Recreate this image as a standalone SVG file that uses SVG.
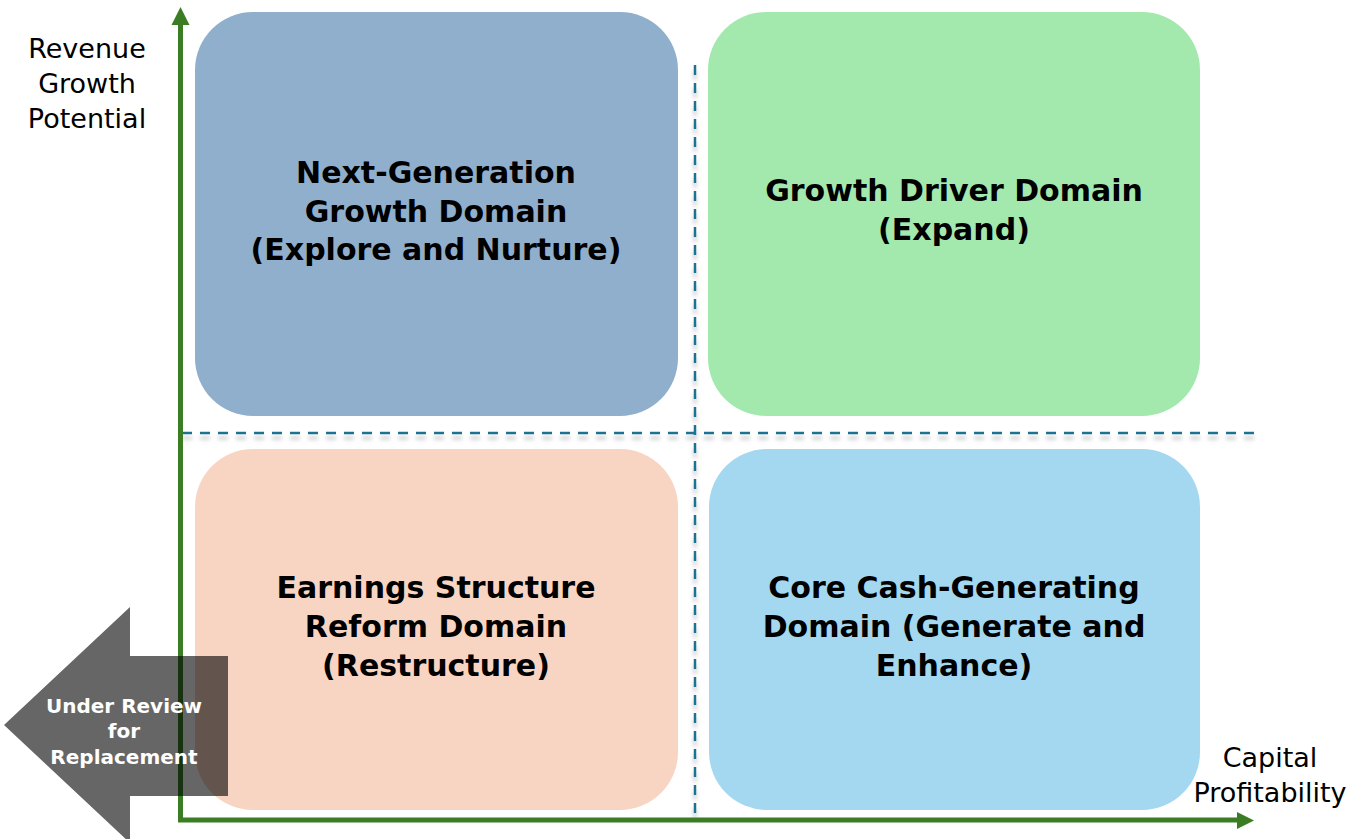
<svg xmlns="http://www.w3.org/2000/svg" width="1352" height="839" viewBox="0 0 1352 839">
<style>
.box{stroke:none}
.title{font-family:"DejaVu Sans","Liberation Sans",sans-serif;font-weight:bold;font-size:30px;fill:#000;text-anchor:middle}
.axis-label{font-family:"DejaVu Sans","Liberation Sans",sans-serif;font-size:27px;fill:#000;text-anchor:middle}
.arrow-text{font-family:"DejaVu Sans","Liberation Sans",sans-serif;font-weight:bold;font-size:20px;fill:#fff;text-anchor:middle}
.dash{stroke:#1f7391;stroke-width:2.5;stroke-dasharray:10 8;fill:none}
.axis{stroke:#3b7d23;stroke-width:5;fill:none}
</style>
<defs>
<filter id="sh" x="-5%" y="-5%" width="110%" height="110%">
<feDropShadow dx="0" dy="5" stdDeviation="2" flood-color="#000" flood-opacity="0.25"/>
</filter>
</defs>
<rect width="1352" height="839" fill="#fff"/>

<g id="node-next-gen">
<rect class="box" x="195" y="12" width="483" height="404" rx="58" fill="#90afcc"/>
<text class="title" x="436" y="183">Next-Generation</text>
<text class="title" x="436" y="221.5">Growth Domain</text>
<text class="title" x="436" y="260">(Explore and Nurture)</text>
</g>
<g id="node-growth-driver">
<rect class="box" x="708" y="12" width="492" height="404" rx="58" fill="#a3e9ad"/>
<text class="title" x="954" y="201">Growth Driver Domain</text>
<text class="title" x="954" y="240">(Expand)</text>
</g>
<g id="node-earnings">
<rect class="box" x="195" y="449" width="483" height="361" rx="58" fill="#f8d5c2"/>
<text class="title" x="436" y="598">Earnings Structure</text>
<text class="title" x="436" y="637">Reform Domain</text>
<text class="title" x="436" y="676">(Restructure)</text>
</g>
<g id="node-core-cash">
<rect class="box" x="709" y="449" width="491" height="361" rx="58" fill="#a3d8f0"/>
<text class="title" x="954" y="598">Core Cash-Generating</text>
<text class="title" x="954" y="637">Domain (Generate and</text>
<text class="title" x="954" y="676">Enhance)</text>
</g>

<g id="connectors">
<g filter="url(#sh)">
<line class="dash" x1="182" y1="433" x2="1256" y2="433"/>
<line class="dash" x1="695" y1="65" x2="695" y2="820"/>
</g>
<line class="axis" x1="180.5" y1="820" x2="180.5" y2="24"/>
<polygon points="180.5,7 189.5,25 171.5,25" fill="#3b7d23"/>
<line class="axis" x1="178" y1="820" x2="1238" y2="820"/>
<polygon points="1254,820.5 1237,812 1237,829" fill="#3b7d23"/>
</g>

<g id="axis-label-y">
<text class="axis-label" x="87" y="58">Revenue</text>
<text class="axis-label" x="87" y="93">Growth</text>
<text class="axis-label" x="87" y="128">Potential</text>
</g>
<g id="axis-label-x">
<text class="axis-label" x="1270" y="767">Capital</text>
<text class="axis-label" x="1270" y="802">Profitability</text>
</g>

<g id="node-replacement">
<polygon points="4,725 130,607 130,656 228,656 228,796 130,796 130,843" fill="#000" fill-opacity="0.6"/>
<text class="arrow-text" x="124" y="713">Under Review</text>
<text class="arrow-text" x="124" y="738">for</text>
<text class="arrow-text" x="124" y="764">Replacement</text>
</g>
</svg>
